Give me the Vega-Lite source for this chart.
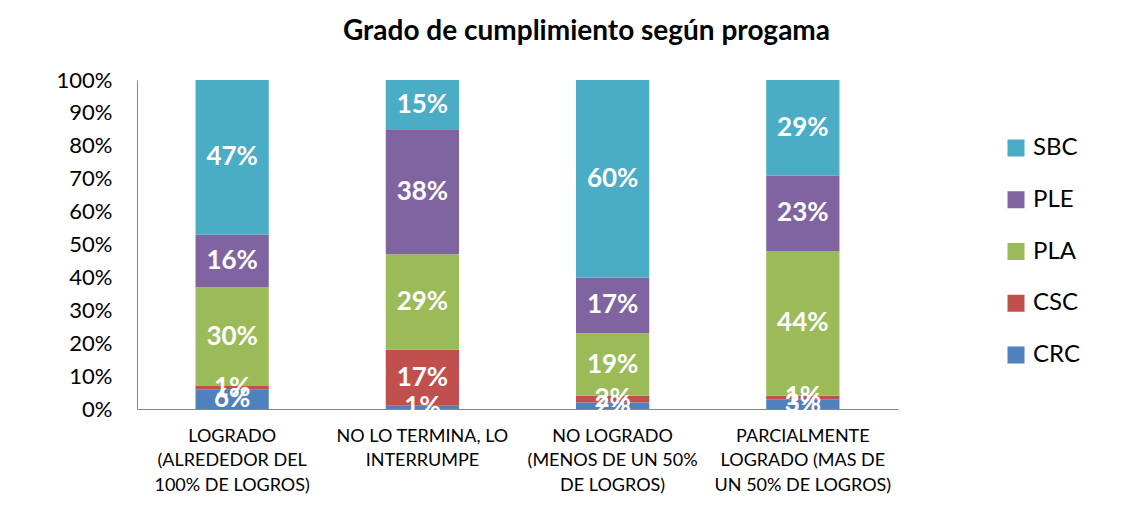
{
  "$schema": "https://vega.github.io/schema/vega-lite/v6.json",
  "autosize": {"type": "none"},
  "width": 761,
  "height": 329,
  "padding": {"left": 137, "top": 80, "right": 237, "bottom": 122},
  "background": "white",
  "title": {
    "text": "Grado de cumplimiento según progama",
    "font": "Lato",
    "fontSize": 28,
    "fontWeight": "bold",
    "color": "black",
    "anchor": "middle",
    "frame": "group",
    "dx": 69,
    "offset": 1,
    "baseline": "alphabetic"
  },
  "config": {
    "view": {"stroke": null},
    "font": "Lato"
  },
  "data": {
    "values": [
      {"programa": "LOGRADO (ALREDEDOR DEL 100% DE LOGROS)", "serie": "CRC", "valor": 0.06},
      {"programa": "LOGRADO (ALREDEDOR DEL 100% DE LOGROS)", "serie": "CSC", "valor": 0.01},
      {"programa": "LOGRADO (ALREDEDOR DEL 100% DE LOGROS)", "serie": "PLA", "valor": 0.30},
      {"programa": "LOGRADO (ALREDEDOR DEL 100% DE LOGROS)", "serie": "PLE", "valor": 0.16},
      {"programa": "LOGRADO (ALREDEDOR DEL 100% DE LOGROS)", "serie": "SBC", "valor": 0.47},
      {"programa": "NO LO TERMINA, LO INTERRUMPE", "serie": "CRC", "valor": 0.01},
      {"programa": "NO LO TERMINA, LO INTERRUMPE", "serie": "CSC", "valor": 0.17},
      {"programa": "NO LO TERMINA, LO INTERRUMPE", "serie": "PLA", "valor": 0.29},
      {"programa": "NO LO TERMINA, LO INTERRUMPE", "serie": "PLE", "valor": 0.38},
      {"programa": "NO LO TERMINA, LO INTERRUMPE", "serie": "SBC", "valor": 0.15},
      {"programa": "NO LOGRADO (MENOS DE UN 50% DE LOGROS)", "serie": "CRC", "valor": 0.02},
      {"programa": "NO LOGRADO (MENOS DE UN 50% DE LOGROS)", "serie": "CSC", "valor": 0.02},
      {"programa": "NO LOGRADO (MENOS DE UN 50% DE LOGROS)", "serie": "PLA", "valor": 0.19},
      {"programa": "NO LOGRADO (MENOS DE UN 50% DE LOGROS)", "serie": "PLE", "valor": 0.17},
      {"programa": "NO LOGRADO (MENOS DE UN 50% DE LOGROS)", "serie": "SBC", "valor": 0.60},
      {"programa": "PARCIALMENTE LOGRADO (MAS DE UN 50% DE LOGROS)", "serie": "CRC", "valor": 0.03},
      {"programa": "PARCIALMENTE LOGRADO (MAS DE UN 50% DE LOGROS)", "serie": "CSC", "valor": 0.01},
      {"programa": "PARCIALMENTE LOGRADO (MAS DE UN 50% DE LOGROS)", "serie": "PLA", "valor": 0.44},
      {"programa": "PARCIALMENTE LOGRADO (MAS DE UN 50% DE LOGROS)", "serie": "PLE", "valor": 0.23},
      {"programa": "PARCIALMENTE LOGRADO (MAS DE UN 50% DE LOGROS)", "serie": "SBC", "valor": 0.29}
    ]
  },
  "encoding": {
    "x": {
      "field": "programa",
      "type": "nominal",
      "sort": null,
      "scale": {"paddingInner": 0.615, "paddingOuter": 0.3077},
      "axis": {
        "title": null,
        "labelAngle": 0,
        "ticks": false,
        "domainColor": "#868686",
        "domainWidth": 1,
        "labelFont": "Lato",
        "labelFontSize": 18,
        "labelColor": "black",
        "labelPadding": 18,
        "labelBaseline": "top",
        "labelLineHeight": 24.5,
        "labelLimit": 0,
        "labelExpr": "datum.value == 'LOGRADO (ALREDEDOR DEL 100% DE LOGROS)' ? ['LOGRADO', '(ALREDEDOR DEL', '100% DE LOGROS)'] : datum.value == 'NO LO TERMINA, LO INTERRUMPE' ? ['NO LO TERMINA, LO', 'INTERRUMPE'] : datum.value == 'NO LOGRADO (MENOS DE UN 50% DE LOGROS)' ? ['NO LOGRADO', '(MENOS DE UN 50%', 'DE LOGROS)'] : ['PARCIALMENTE', 'LOGRADO (MAS DE', 'UN 50% DE LOGROS)']"
      }
    },
    "y": {
      "field": "valor",
      "type": "quantitative",
      "stack": "normalize",
      "scale": {"domain": [0, 1]},
      "axis": {
        "title": null,
        "format": ".0%",
        "values": [0, 0.1, 0.2, 0.3, 0.4, 0.5, 0.6, 0.7, 0.8, 0.9, 1],
        "grid": false,
        "ticks": false,
        "domainColor": "#868686",
        "domainWidth": 1,
        "labelFont": "Lato",
        "labelFontSize": 22,
        "labelColor": "black",
        "labelPadding": 25
      }
    },
    "order": {"field": "serie", "type": "nominal", "sort": "ascending"}
  },
  "layer": [
    {
      "mark": {"type": "bar"},
      "encoding": {
        "color": {
          "field": "serie",
          "type": "nominal",
          "scale": {
            "domain": ["SBC", "PLE", "PLA", "CSC", "CRC"],
            "range": ["#4BACC6", "#8064A2", "#9BBB59", "#C0504D", "#4F81BD"]
          },
          "legend": {
            "title": null,
            "orient": "none",
            "legendX": 867,
            "legendY": 56,
            "symbolType": "square",
            "symbolSize": 289,
            "symbolStrokeWidth": 0,
            "labelFont": "Lato",
            "labelFontSize": 24,
            "labelColor": "black",
            "labelOffset": 5,
            "rowPadding": 27.75
          }
        }
      }
    },
    {
      "mark": {
        "type": "text",
        "color": "white",
        "font": "Lato",
        "fontSize": 26,
        "fontWeight": "bold",
        "baseline": "middle",
        "align": "center"
      },
      "encoding": {
        "y": {"field": "valor", "type": "quantitative", "stack": "normalize", "bandPosition": 0.5},
        "text": {"field": "valor", "type": "quantitative", "format": ".0%"}
      }
    }
  ]
}
